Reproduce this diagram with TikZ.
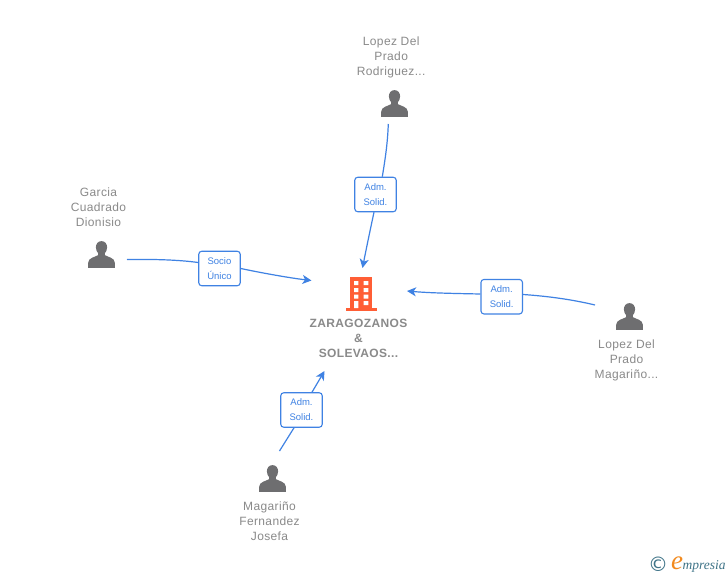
\documentclass[tikz,border=0pt]{standalone}
\usepackage{fontspec}
\setmainfont{Liberation Sans}
\newfontfamily\lblfont[LetterSpace=3]{Liberation Sans}
\newfontfamily\lblbold[LetterSpace=3]{Liberation Sans Bold}
\newfontfamily\logofont{Liberation Serif Italic}
\newfontfamily\symfont{DejaVu Sans}
\usetikzlibrary{arrows.meta}
\definecolor{linkblue}{HTML}{3F82E3}
\definecolor{labelgray}{HTML}{8A8A8A}
\definecolor{icongray}{HTML}{6E6E70}
\definecolor{bldorange}{HTML}{FF5E35}
\definecolor{logoteal}{HTML}{3F7488}
\definecolor{logoorange}{HTML}{F28A1E}
\tikzset{
  personicon/.style={minimum width=27pt,minimum height=27pt,inner sep=0pt,outer sep=0pt,
    path picture={
      \fill[icongray,shift={(path picture bounding box.center)}]
        (0,-13.4) .. controls (-3.6,-13.4) and (-5.6,-10.4) .. (-5.6,-7.2)
        .. controls (-5.6,-4.6) and (-4.6,-2.6) .. (-3.3,-1.2)
        -- (-3.3,0.6) .. controls (-6,2.4) and (-13.4,3.2) .. (-13.4,8.4)
        -- (-13.4,13.4) -- (13.4,13.4) -- (13.4,8.4)
        .. controls (13.4,3.2) and (6,2.4) .. (3.3,0.6)
        -- (3.3,-1.2) .. controls (4.6,-2.6) and (5.6,-4.6) .. (5.6,-7.2)
        .. controls (5.6,-10.4) and (3.6,-13.4) .. (0,-13.4) -- cycle;
    }},
  personname/.style={text=labelgray,align=center,font=\lblfont\fontsize{12}{15}\selectfont,inner sep=0pt},
  companyname/.style={text=labelgray,align=center,font=\lblbold\fontsize{12}{15}\selectfont,inner sep=0pt},
  rolebox/.style={draw=linkblue,line width=1.1pt,rounded corners=3pt,fill=white,
    minimum width=41.5pt,minimum height=34.5pt,inner sep=0pt,text=linkblue,align=center,
    font=\fontsize{9.5}{15}\selectfont},
  link/.style={draw=linkblue,line width=1.2pt},
  linkarrow/.style={link,-{Stealth[length=9pt,width=9pt,inset=2.5pt]}},
}
\begin{document}
\begin{tikzpicture}[x=1pt,y=-1pt]
\useasboundingbox (0,0) rectangle (728,575);
\fill[white] (0,0) rectangle (728,575);

% persons
\node[personicon] (p1) at (394.5,103.5) {};
\node[personname] (n1) at (391.2,57.2) {Lopez Del\\Prado\\Rodriguez...};
\node[personicon] (p2) at (101.5,254.5) {};
\node[personname] (n2) at (98.5,207.2) {Garcia\\Cuadrado\\Dionisio};
\node[personicon] (p3) at (629.5,316.5) {};
\node[personname] (n3) at (626.5,360.2) {Lopez Del\\Prado\\Magariño...};
\node[personicon] (p4) at (272.5,478.5) {};
\node[personname] (n4) at (269.5,521.6) {Magariño\\Fernandez\\Josefa};

% company
\fill[bldorange] (350,277) rectangle (372,308.5);
\fill[bldorange] (345.7,308) rectangle (376.7,310.5);
\fill[white] (354,281) rectangle (358.3,285) (363.7,281) rectangle (368.3,285)
  (354,288) rectangle (358.3,292) (363.7,288) rectangle (368.3,292)
  (354,294.7) rectangle (358.3,298.7) (363.7,294.7) rectangle (368.3,298.7)
  (354,301) rectangle (358.3,308) (363.7,301) rectangle (368.3,305);
\node[companyname] (c) at (358.5,338.4) {ZARAGOZANOS\\\&\\SOLEVAOS...};

% role boxes
\node[rolebox] (b1) at (375.5,194.5) {Adm.\\Solid.};
\node[rolebox] (b2) at (219.5,268.5) {Socio\\Único};
\node[rolebox] (b3) at (501.7,296.7) {Adm.\\Solid.};
\node[rolebox] (b4) at (301.5,410) {Adm.\\Solid.};

% free connector ends
\coordinate (o1) at (388.3,124);
\coordinate (t1) at (362.5,268);
\coordinate (o2) at (127,259.6);
\coordinate (t2) at (311.5,280.5);
\coordinate (o3) at (595,305);
\coordinate (t3) at (407,291);
\coordinate (o4) at (279.5,451);
\coordinate (t4) at (324.5,371);

% connectors
\path[link] (o1) .. controls (387.5,145) and (385,160) .. (b1.north -| 382.3,0);
\path[linkarrow] (b1.south -| 374,0) .. controls (371,226) and (366,250) .. (t1);
\path[link] (o2) .. controls (155,259) and (180,260) .. (b2.west |- 0,262.5);
\path[linkarrow] (b2.east |- 0,268.5) .. controls (262,273) and (290,278) .. (t2);
\path[link] (o3) .. controls (570,299) and (545,296) .. (b3.east |- 0,294.5);
\path[linkarrow] (b3.west |- 0,294) .. controls (455,293.5) and (430,293) .. (t3);
\path[link] (o4) -- (b4.south -| 294,0);
\path[linkarrow] (b4.north -| 312,0) -- (t4);

% logo
\node[inner sep=0pt,text=logoteal,font=\symfont\fontsize{20}{20}\selectfont] (lc) at (658,564) {©};
\node[inner sep=0pt,text=logoorange,font=\logofont\fontsize{27}{27}\selectfont] (le) at (677,563) {e};
\node[inner sep=0pt,anchor=base west,text=logoteal,font=\logofont\fontsize{13.5}{13.5}\selectfont] (lm) at (682.5,569) {mpresia};
\end{tikzpicture}
\end{document}
